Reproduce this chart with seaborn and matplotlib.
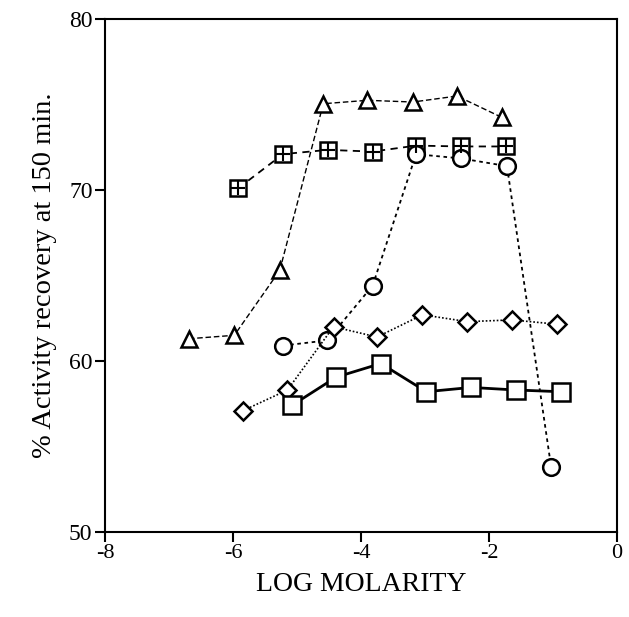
import numpy as np
import pandas as pd
import seaborn as sns
import matplotlib
matplotlib.use("Agg")
import matplotlib.pyplot as plt

# data
tri_x = [-6.69, -5.98, -5.27, -4.59, -3.90, -3.19, -2.50, -1.80]
tri_y = [61.3, 61.5, 65.3, 75.05, 75.25, 75.15, 75.5, 74.25]

xsq_x = [-5.92, -5.22, -4.52, -3.82, -3.14, -2.44, -1.74]
xsq_y = [70.1, 72.1, 72.35, 72.25, 72.6, 72.55, 72.55]

circ_x = [-5.22, -4.53, -3.82, -3.14, -2.44, -1.72, -1.03]
circ_y = [60.9, 61.2, 64.4, 72.1, 71.85, 71.4, 53.8]

dia_x = [-5.84, -5.15, -4.43, -3.75, -3.04, -2.34, -1.64, -0.94]
dia_y = [57.1, 58.3, 62.0, 61.4, 62.7, 62.3, 62.4, 62.15]

sq_x = [-5.08, -4.39, -3.69, -2.98, -2.28, -1.58, -0.88]
sq_y = [57.4, 59.05, 59.85, 58.2, 58.45, 58.3, 58.2]

sns.set_style("ticks")
plt.rcParams['font.family'] = ['Liberation Serif', 'DejaVu Serif']
plt.rcParams['text.color'] = 'black'
plt.rcParams['axes.labelcolor'] = 'black'

fig = plt.figure(figsize=(6.29, 6.17), dpi=100)
ax = fig.add_axes([0.167, 0.138, 0.814, 0.831])

common = dict(color='black', markerfacecolor='white', markeredgecolor='black',
              markeredgewidth=1.8, ax=ax, legend=False, zorder=3)

sns.lineplot(x=tri_x, y=tri_y, marker='^', markersize=12, linestyle=(0, (4, 2)),
             linewidth=1.0, **common)
sns.lineplot(x=xsq_x, y=xsq_y, marker='s', markersize=12, linestyle=(0, (4, 3)),
             linewidth=1.3, **common)
# cross inside the squares
sns.scatterplot(x=xsq_x, y=xsq_y, marker='+', s=115, color='black', linewidth=1.5,
                ax=ax, legend=False, zorder=4)
sns.lineplot(x=circ_x, y=circ_y, marker='o', markersize=12, linestyle=(0, (2, 2)),
             linewidth=1.3, **common)
sns.lineplot(x=dia_x, y=dia_y, marker='D', markersize=9, linestyle=(0, (1, 1.2)),
             linewidth=1.2, **common)
sns.lineplot(x=sq_x, y=sq_y, marker='s', markersize=12.5, linestyle='-',
             linewidth=2.0, **common)

ax.set_xlim(-8, 0)
ax.set_ylim(50, 80)
ax.set_xticks([-8, -6, -4, -2, 0])
ax.set_yticks([50, 60, 70, 80])
ax.set_xticklabels(['-8', '-6', '-4', '-2', '0'])
for s in ax.spines.values():
    s.set_linewidth(1.5)
    s.set_color('black')
ax.tick_params(axis='both', direction='out', length=7, width=1.5, colors='black')
ax.tick_params(axis='y', labelsize=17, pad=2)
ax.tick_params(axis='x', labelsize=16, pad=2)
ax.set_xlabel('LOG MOLARITY', fontsize=20, labelpad=6)
ax.set_ylabel('% Activity recovery at 150 min.', fontsize=20.5, labelpad=9)

fig.savefig('out.png', dpi=100)
